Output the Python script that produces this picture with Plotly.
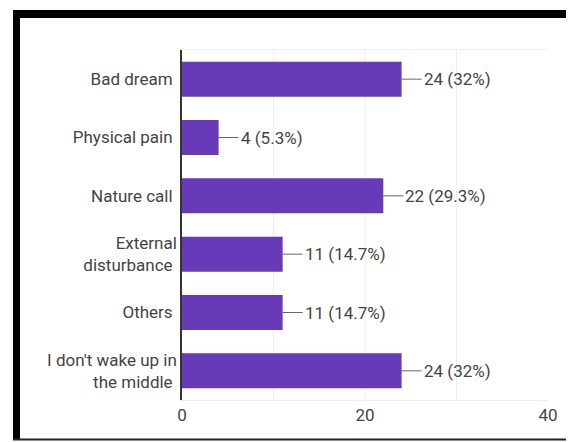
import plotly.graph_objects as go

categories = ["Bad dream", "Physical pain", "Nature call", "External<br>disturbance",
              "Others", "I don't wake up in<br>the middle"]
counts = [24, 4, 22, 11, 11, 24]
percents = ["32%", "5.3%", "29.3%", "14.7%", "14.7%", "32%"]
x_ticks = [0, 20, 40]

# page body has an 8px margin: lay out the figure in page coordinates minus 8
OFF = 8
W, H = 574 - OFF, 442 - OFF
L, T = 182 - OFF, 50 - OFF
PW, PH = 366, 350
R, B = W - L - PW, H - T - PH
FS = 17

def px(x):
    return (x - OFF - L) / PW

def py(y):
    return 1 - (y - OFF - T) / PH

fig = go.Figure(go.Bar(
    x=counts, y=categories, orientation="h",
    marker=dict(color="#673AB7", line=dict(width=0)),
    width=0.6, hoverinfo="skip",
))

for c, v, p in zip(categories, counts, percents):
    fig.add_annotation(
        x=v, y=c, xref="x", yref="y",
        text=f"{v} ({p})", showarrow=True, arrowhead=0, arrowwidth=1,
        arrowcolor="#666666", ax=20, ay=0, xanchor="left",
        standoff=0, startstandoff=0,
        font=dict(family="Roboto", size=FS, color="#444444"),
    )

# outer black frame (page pixel coordinates)
frame = [
    (13, 10, 20, 440),   # left thick
    (13, 10, 572, 18),   # top thick
]
for x0, y0, x1, y1 in frame:
    fig.add_shape(type="rect", xref="paper", yref="paper",
                  x0=px(x0), x1=px(x1), y0=py(y1), y1=py(y0),
                  fillcolor="black", line=dict(width=0), layer="above")
fig.add_shape(type="line", xref="paper", yref="paper",
              x0=px(13), x1=px(573), y0=py(439.5), y1=py(439.5),
              line=dict(color="#222222", width=2), layer="above")
fig.add_shape(type="line", xref="paper", yref="paper",
              x0=px(572), x1=px(572), y0=py(10), y1=py(440),
              line=dict(color="#555555", width=2), layer="above")

fig.update_layout(
    width=W, height=H,
    margin=dict(l=L, r=R, t=T, b=B, autoexpand=False),
    paper_bgcolor="white", plot_bgcolor="white",
    showlegend=False,
    font=dict(family="Roboto", size=FS, color="#444444"),
    bargap=0.4,
    xaxis=dict(range=[0, 40], tickvals=x_ticks, ticktext=[str(t) for t in x_ticks],
               showgrid=False, zeroline=False, automargin=False,
               showline=True, mirror=True, linecolor="#eeeeee", linewidth=1,
               ticks="", ticklen=0,
               tickfont=dict(family="Roboto", size=FS, color="#444444")),
    yaxis=dict(autorange="reversed", showgrid=False, zeroline=False, automargin=False,
               showline=True, linecolor="#333333", linewidth=1.5,
               ticks="", ticksuffix=" ",
               tickfont=dict(family="Roboto", size=FS, color="#444444")),
)

# gridlines every 10 units
for g in [10, 20, 30]:
    fig.add_shape(type="line", xref="x", yref="paper", x0=g, x1=g, y0=0, y1=1,
                  line=dict(color="#eeeeee", width=1), layer="below")

fig.write_html("out.html")
